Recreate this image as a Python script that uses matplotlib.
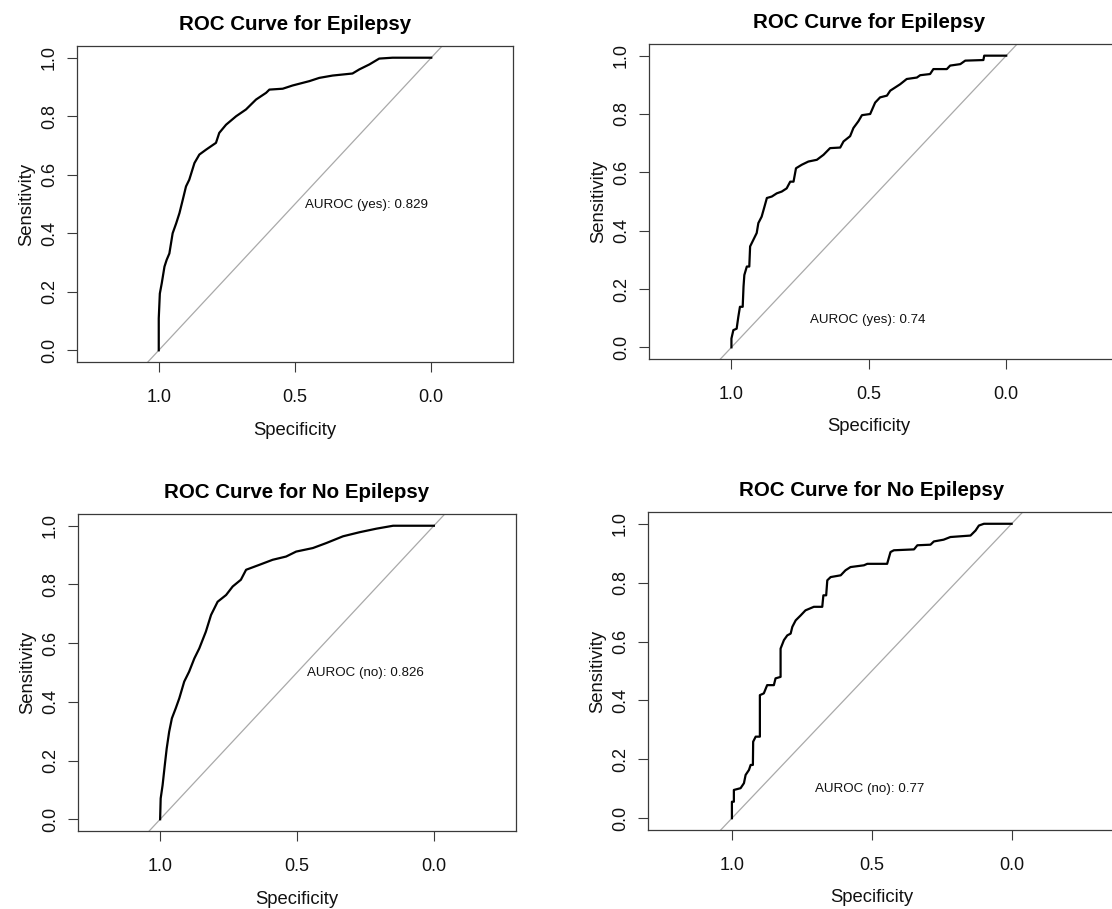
import numpy as np
import matplotlib
matplotlib.use('Agg')
import matplotlib.pyplot as plt
from matplotlib.transforms import blended_transform_factory

plt.rcParams['font.family'] = ['Liberation Sans', 'DejaVu Sans']

titles = ['ROC Curve for Epilepsy', 'ROC Curve for Epilepsy',
          'ROC Curve for No Epilepsy', 'ROC Curve for No Epilepsy']
auc_labels = ['AUROC (yes): 0.829', 'AUROC (yes): 0.74',
              'AUROC (no): 0.826', 'AUROC (no): 0.77']
# where the AUROC label sits (specificity, sensitivity)
auc_pos = [(0.462, 0.497), (0.714, 0.095), (0.464, 0.497), (0.703, 0.099)]

# top left
spec_epi_1 = [1.0, 1.0, 0.996, 0.989, 0.979, 0.971, 0.961, 0.949, 0.936, 0.924,
              0.912, 0.900, 0.888, 0.869, 0.851, 0.826, 0.790, 0.778, 0.753, 0.716,
              0.680, 0.643, 0.606, 0.594, 0.545, 0.509, 0.447, 0.411, 0.362, 0.289,
              0.264, 0.227, 0.191, 0.142, 0.0]
sens_epi_1 = [0.0, 0.109, 0.194, 0.229, 0.286, 0.309, 0.331, 0.400, 0.434, 0.469,
              0.514, 0.560, 0.583, 0.640, 0.669, 0.686, 0.709, 0.743, 0.771, 0.800,
              0.823, 0.857, 0.880, 0.891, 0.894, 0.905, 0.920, 0.931, 0.939, 0.946,
              0.960, 0.977, 0.997, 1.0, 1.0]

# top right
spec_epi_2 = [1.0, 1.0, 0.993, 0.981, 0.975, 0.969, 0.959, 0.956, 0.953, 0.944,
              0.935, 0.932, 0.920, 0.908, 0.902, 0.890, 0.881, 0.871, 0.853, 0.835,
              0.817, 0.799, 0.786, 0.774, 0.765, 0.744, 0.720, 0.689, 0.665, 0.641,
              0.604, 0.592, 0.568, 0.556, 0.538, 0.525, 0.495, 0.477, 0.459, 0.434,
              0.422, 0.404, 0.386, 0.362, 0.325, 0.313, 0.277, 0.265, 0.216, 0.204,
              0.167, 0.149, 0.083, 0.080, 0.0]
sens_epi_2 = [0.0, 0.030, 0.059, 0.064, 0.104, 0.139, 0.139, 0.208, 0.248, 0.277,
              0.277, 0.346, 0.369, 0.392, 0.426, 0.448, 0.478, 0.512, 0.517, 0.528,
              0.534, 0.545, 0.568, 0.568, 0.614, 0.626, 0.637, 0.643, 0.660, 0.683,
              0.685, 0.706, 0.724, 0.752, 0.775, 0.796, 0.800, 0.839, 0.857, 0.863,
              0.880, 0.891, 0.902, 0.920, 0.925, 0.933, 0.937, 0.954, 0.954, 0.966,
              0.971, 0.983, 0.985, 1.0, 1.0]

# bottom left
spec_noepi_1 = [1.0, 0.998, 0.991, 0.983, 0.976, 0.967, 0.957, 0.943, 0.930, 0.912,
                0.894, 0.875, 0.857, 0.833, 0.814, 0.790, 0.759, 0.735, 0.705, 0.686,
                0.637, 0.589, 0.540, 0.503, 0.442, 0.393, 0.332, 0.271, 0.210, 0.149,
                0.0]
sens_noepi_1 = [0.0, 0.071, 0.116, 0.184, 0.241, 0.298, 0.344, 0.378, 0.412, 0.469,
                0.503, 0.548, 0.582, 0.639, 0.696, 0.741, 0.764, 0.793, 0.816, 0.850,
                0.867, 0.884, 0.895, 0.912, 0.924, 0.941, 0.964, 0.978, 0.990, 1.0,
                1.0]

# bottom right
spec_noepi_2 = [1.0, 1.0, 0.993, 0.993, 0.969, 0.957, 0.951, 0.939, 0.933, 0.925,
                0.924, 0.915, 0.900, 0.900, 0.886, 0.874, 0.850, 0.844, 0.826, 0.826,
                0.814, 0.802, 0.790, 0.784, 0.772, 0.754, 0.737, 0.707, 0.677, 0.673,
                0.663, 0.659, 0.647, 0.611, 0.594, 0.576, 0.528, 0.516, 0.445, 0.433,
                0.421, 0.349, 0.337, 0.290, 0.278, 0.243, 0.219, 0.147, 0.129, 0.117,
                0.099, 0.0]
sens_noepi_2 = [0.0, 0.056, 0.056, 0.096, 0.102, 0.119, 0.147, 0.164, 0.181, 0.181,
                0.260, 0.277, 0.277, 0.418, 0.424, 0.452, 0.452, 0.475, 0.480, 0.576,
                0.605, 0.621, 0.627, 0.650, 0.672, 0.689, 0.706, 0.718, 0.718, 0.757,
                0.757, 0.808, 0.819, 0.825, 0.842, 0.853, 0.859, 0.864, 0.864, 0.904,
                0.910, 0.913, 0.927, 0.929, 0.940, 0.946, 0.955, 0.960, 0.977, 0.994,
                1.0, 1.0]

specs = [spec_epi_1, spec_epi_2, spec_noepi_1, spec_noepi_2]
senss = [sens_epi_1, sens_epi_2, sens_noepi_1, sens_noepi_2]

W, H = 1112, 909
# box in pixels: left, top, right, bottom ; plus right x limit
boxes = [(77, 46, 513, 362, -0.30),
         (649, 44, 1140, 359, -0.487),
         (78, 514, 516, 831, -0.30),
         (648, 512, 1140, 830, -0.459)]

fig = plt.figure(figsize=(W / 100, H / 100), dpi=100)

box_col = '#3a3a3a'
for i in range(4):
    L, T, R, B, xr = boxes[i]
    ax = fig.add_axes([L / W, 1 - B / H, (R - L) / W, (B - T) / H])
    ax.set_xlim(1.30, xr)
    ax.set_ylim(-0.04, 1.04)

    ax.axline((1, 0), (0, 1), color='#a9a9a9', lw=0.9, zorder=1)
    ax.plot(specs[i], senss[i], color='black', lw=1.6, zorder=2)

    ax.text(auc_pos[i][0], auc_pos[i][1], auc_labels[i], ha='left', va='center',
            fontsize=9.6, color='#111111')

    bt = blended_transform_factory(ax.transData, ax.transAxes)
    ax.text(0.5, 1 + 21 / (B - T), titles[i], transform=bt, ha='center', va='center',
            fontsize=14.8, fontweight='bold')

    ax.set_xticks([1.0, 0.5, 0.0])
    ax.set_xticklabels(['1.0', '0.5', '0.0'])
    ax.set_yticks([0.0, 0.2, 0.4, 0.6, 0.8, 1.0])
    ax.set_yticklabels(['0.0', '0.2', '0.4', '0.6', '0.8', '1.0'])
    ax.tick_params(length=7.2, width=0.8, color=box_col, labelsize=13,
                   labelcolor='#111111')
    ax.tick_params(axis='x', pad=12)
    ax.tick_params(axis='y', pad=6.5)
    for lab in ax.get_yticklabels():
        lab.set_rotation(90)
        lab.set_va('center')

    ax.set_xlabel('Specificity', fontsize=13.3, color='#111111')
    ax.xaxis.set_label_coords(0.5, -68 / (B - T), transform=bt)
    ax.xaxis.label.set_va('center')
    ax.set_ylabel('Sensitivity', fontsize=13.3, color='#111111')
    ax.yaxis.set_label_coords(-50 / (R - L), 0.5)
    ax.yaxis.label.set_va('center')

    for s in ax.spines.values():
        s.set_color(box_col)
        s.set_linewidth(0.9)

fig.savefig('out.png', dpi=100, facecolor='white')
